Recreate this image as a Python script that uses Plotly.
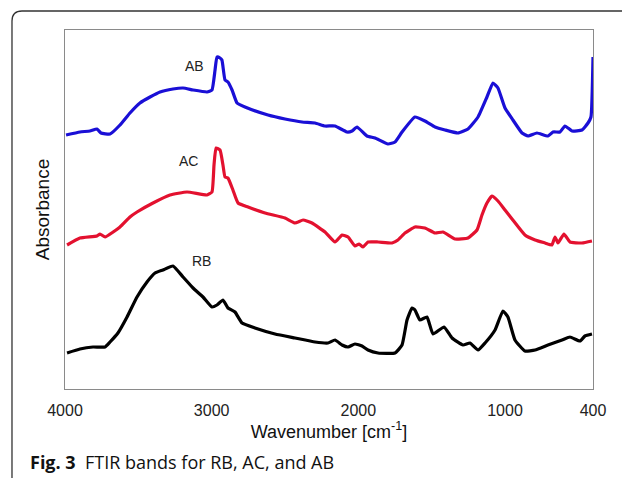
import plotly.graph_objects as go

# ---- data (wavenumber in cm^-1, absorbance in arbitrary offset units) ----
ab_wn = [3993, 3898, 3830, 3782, 3755, 3693, 3625, 3557, 3489, 3420, 3352, 3264, 3195, 3127,
         3032, 2998, 2977, 2964, 2943, 2930, 2909, 2889, 2861, 2827, 2773, 2616, 2500, 2384,
         2295, 2227, 2159, 2077, 2043, 2009, 1941, 1886, 1798, 1750, 1702, 1614, 1546, 1477,
         1409, 1321, 1252, 1184, 1123, 1082, 1048, 1000, 946, 884, 843, 782, 707, 673, 625,
         591, 543, 475, 434, 414, 400]
ab_abs = [2.54, 2.57, 2.58, 2.60, 2.56, 2.55, 2.64, 2.76, 2.86, 2.92, 2.97, 3.00, 3.01, 2.99,
          2.97, 2.99, 3.19, 3.32, 3.31, 3.29, 3.09, 3.07, 2.99, 2.86, 2.82, 2.74, 2.70, 2.67,
          2.66, 2.63, 2.63, 2.57, 2.58, 2.62, 2.53, 2.51, 2.45, 2.47, 2.57, 2.72, 2.68, 2.62,
          2.59, 2.56, 2.60, 2.72, 2.92, 3.06, 3.01, 2.81, 2.69, 2.56, 2.53, 2.56, 2.53, 2.57, 2.57,
          2.63, 2.58, 2.59, 2.66, 2.72, 3.32]

ac_wn = [3986, 3898, 3782, 3761, 3727, 3625, 3557, 3509, 3400, 3284, 3168, 3032, 2998, 2984,
         2970, 2943, 2923, 2909, 2889, 2855, 2820, 2752, 2636, 2500, 2432, 2377, 2316, 2227,
         2159, 2111, 2070, 2023, 1995, 1968, 1934, 1866, 1770, 1730, 1682, 1614, 1546, 1477,
         1423, 1341, 1252, 1191, 1157, 1123, 1089, 1048, 1000, 952, 864, 795, 727, 680, 659,
         639, 598, 557, 475, 407]
ac_abs = [1.44, 1.51, 1.53, 1.55, 1.52, 1.62, 1.72, 1.77, 1.86, 1.94, 1.97, 1.94, 1.97, 2.24,
          2.41, 2.39, 2.24, 2.12, 2.11, 1.99, 1.86, 1.82, 1.76, 1.71, 1.66, 1.69, 1.66, 1.57,
          1.47, 1.54, 1.52, 1.43, 1.45, 1.42, 1.47, 1.47, 1.46, 1.49, 1.56, 1.62, 1.61, 1.56,
          1.57, 1.50, 1.51, 1.59, 1.74, 1.86, 1.93, 1.88, 1.79, 1.70, 1.54, 1.49, 1.46, 1.44, 1.52,
          1.46, 1.55, 1.47, 1.46, 1.48]

rb_wn = [3986, 3898, 3809, 3727, 3693, 3639, 3577, 3509, 3441, 3386, 3332, 3264, 3195, 3127,
         3059, 2998, 2964, 2923, 2889, 2841, 2793, 2705, 2568, 2432, 2295, 2207, 2159, 2111,
         2070, 2023, 1975, 1934, 1866, 1750, 1702, 1668, 1634, 1614, 1580, 1532, 1491, 1416,
         1361, 1286, 1239, 1184, 1136, 1068, 1014, 980, 932, 864, 795, 707, 611, 557, 489, 455, 407]
rb_abs = [0.36, 0.40, 0.42, 0.42, 0.47, 0.56, 0.72, 0.92, 1.07, 1.16, 1.19, 1.23, 1.12, 1.01,
          0.92, 0.82, 0.84, 0.89, 0.81, 0.77, 0.66, 0.61, 0.55, 0.51, 0.47, 0.46, 0.49, 0.44,
          0.42, 0.45, 0.43, 0.39, 0.36, 0.36, 0.44, 0.69, 0.81, 0.79, 0.69, 0.72, 0.55, 0.62,
          0.51, 0.44, 0.46, 0.39, 0.46, 0.59, 0.78, 0.72, 0.49, 0.38, 0.39, 0.44, 0.49, 0.52, 0.48, 0.53, 0.55]

x_ticks = [4000, 3000, 2000, 1000, 400]
series_names = ["AB", "AC", "RB"]
label_pos_wn = [3120, 3161, 3066]
label_pos_abs = [3.23, 2.28, 1.28]

colors = ["#1a0fd6", "#e3112f", "#000000"]

fig = go.Figure()
for wn, ab, name, c in zip([ab_wn, ac_wn, rb_wn], [ab_abs, ac_abs, rb_abs], series_names, colors):
    fig.add_trace(go.Scatter(x=wn, y=ab, mode="lines", name=name,
                             line=dict(color=c, width=3.2, shape="spline", smoothing=0.4)))

for name, xw, ya in zip(series_names, label_pos_wn, label_pos_abs):
    fig.add_annotation(x=xw, y=ya, text=name, showarrow=False,
                       font=dict(family="Liberation Sans, Arial, sans-serif", size=14, color="#222"))

# Caption
fig.add_annotation(xref="paper", yref="paper", x=-0.070, y=-0.203, xanchor="left", yanchor="middle",
                   text="<b>Fig. 3</b>  FTIR bands for RB, AC, and AB", showarrow=False,
                   font=dict(family="Open Sans, sans-serif", size=18, color="#111"))

# Outer frame with rounded top-left corner
xl, yt = -0.1004, 1.0529
rx, ry = 10 / 528, 10 / 359
frame = (f"M {xl},{-0.30} L {xl},{yt - ry} Q {xl},{yt} {xl + rx},{yt} L {1.10},{yt}")
fig.add_shape(type="path", xref="paper", yref="paper", path=frame,
              line=dict(color="#333", width=1.3))

fig.update_layout(
    width=622, height=478,
    margin=dict(l=65, r=29, t=30, b=89),
    paper_bgcolor="white", plot_bgcolor="white",
    showlegend=False,
    font=dict(family="Liberation Sans, Arial, sans-serif", color="#222"),
    xaxis=dict(range=[4000, 400], tickvals=x_ticks, ticktext=[str(v) for v in x_ticks],
               showgrid=False, zeroline=False, showline=True, mirror=True,
               linecolor="#8a8a8a", linewidth=1, ticks="", ticklabelstandoff=7,
               tickfont=dict(size=16, color="#222"),
               title=dict(text="Wavenumber [cm<sup>-1</sup>]", font=dict(size=18, color="#111"),
                          standoff=6)),
    yaxis=dict(range=[0, 3.59], showticklabels=False, showgrid=False, zeroline=False,
               showline=True, mirror=True, linecolor="#8a8a8a", linewidth=1, ticks="",
               title=dict(text="Absorbance", font=dict(size=19, color="#111"), standoff=9)),
)

fig.write_html("out.html")
